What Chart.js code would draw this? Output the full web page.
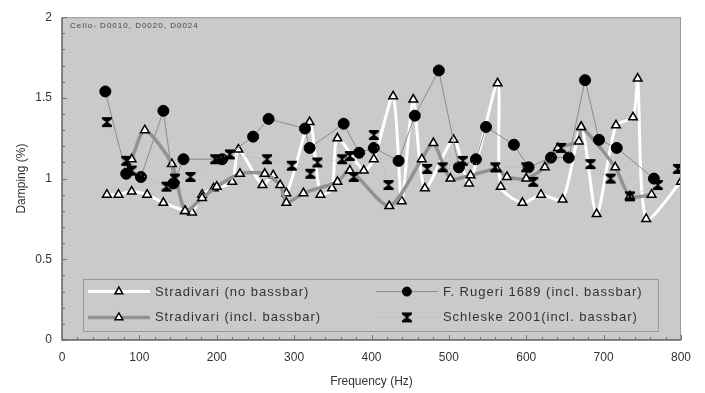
<!DOCTYPE html>
<html><head><meta charset="utf-8">
<script src="https://cdn.jsdelivr.net/npm/chart.js@4.4.1/dist/chart.umd.min.js"></script>
<style>html,body{margin:0;padding:0;background:#fff}#wrap{width:705px;height:393px}</style>
</head><body><div id="wrap"><canvas id="c" width="705" height="393"></canvas></div>
<script>
// ---- data (Frequency Hz, Damping %) ----
const noBassX = [58,73,90,110,131,159,168,181,196,220,228,259,273,290,320,334,349,356,390,403,428,439,454,469,506,526,563,567,595,619,647,671,691,716,738,744,755,800];
const noBassY = [0.90,0.90,0.92,0.90,0.85,0.80,0.79,0.90,0.94,0.98,1.18,0.96,1.02,0.91,1.35,0.90,0.94,1.25,1.05,1.12,1.51,0.86,1.49,0.94,1.24,0.97,1.59,0.95,0.85,0.90,0.87,1.32,0.78,1.33,1.38,1.62,0.75,0.98];
const inclBassX = [90,107,142,159,181,200,230,262,282,290,312,356,372,423,465,480,502,528,562,575,600,624,641,668,671,715,734,762];
const inclBassY = [1.12,1.30,1.09,0.80,0.88,0.95,1.03,1.03,0.96,0.85,0.91,0.98,1.05,0.83,1.12,1.22,1.00,1.02,1.06,1.01,1.00,1.07,1.19,1.23,1.32,1.07,0.89,0.90];
const rugeriX = [56,83,102,131,144,157,207,247,267,314,320,364,384,403,435,456,487,513,535,548,584,603,632,655,676,694,717,765];
const rugeriY = [1.54,1.03,1.01,1.42,0.97,1.12,1.12,1.26,1.37,1.31,1.19,1.34,1.16,1.19,1.11,1.39,1.67,1.07,1.12,1.32,1.21,1.07,1.13,1.13,1.61,1.24,1.19,1.00];
const schleskeX = [58,83,90,135,146,166,198,217,265,297,321,330,362,372,377,403,422,472,492,518,560,600,609,645,683,709,734,770,796];
const schleskeY = [1.35,1.11,1.05,0.95,1.00,1.01,1.12,1.15,1.12,1.08,1.03,1.10,1.12,1.14,1.01,1.27,0.96,1.06,1.07,1.11,1.07,1.07,0.98,1.19,1.09,1.00,0.89,0.96,1.06];
const seriesNames = ["Stradivari (no bassbar)","Stradivari (incl. bassbar)","F. Rugeri 1689 (incl. bassbar)","Schleske 2001(incl. bassbar)"];
const xTicks = [0,100,200,300,400,500,600,700,800];
const yTicks = [0,0.5,1,1.5,2];
const noteText = "Cello- D0010, D0020, D0024";

const pts = (xs, ys) => xs.map((x, i) => ({x: x, y: ys[i]}));

// hourglass marker
const hg = document.createElement('canvas');
hg.width = 12; hg.height = 12;
(function(){
  const g = hg.getContext('2d');
  g.fillStyle = '#000';
  g.beginPath();
  g.moveTo(1,1); g.lineTo(11,1); g.lineTo(11,3); g.lineTo(6.8,6); g.lineTo(11,9); g.lineTo(11,11);
  g.lineTo(1,11); g.lineTo(1,9); g.lineTo(5.2,6); g.lineTo(1,3); g.closePath();
  g.fill();
})();

const FONT = "'Liberation Sans', Arial, sans-serif";

const bgPlugin = {
  id: 'bg',
  beforeDraw(chart) {
    const {ctx, chartArea: a} = chart;
    ctx.save();
    ctx.fillStyle = '#cacaca';
    ctx.fillRect(a.left, a.top, a.right - a.left, a.bottom - a.top);
    ctx.restore();
  },
  afterDraw(chart) {
    const {ctx, chartArea: a, scales} = chart;
    ctx.save();
    // border
    ctx.strokeStyle = '#9a9a9a'; ctx.lineWidth = 1;
    ctx.strokeRect(a.left + 0.5, a.top + 0.5, a.right - a.left - 1, a.bottom - a.top - 1);
    ctx.strokeStyle = '#6a6a6a'; ctx.lineWidth = 1.5;
    ctx.beginPath(); ctx.moveTo(a.left, a.top); ctx.lineTo(a.left, a.bottom); ctx.lineTo(a.right, a.bottom); ctx.stroke();
    // inward ticks
    ctx.strokeStyle = '#707070'; ctx.lineWidth = 1;
    for (let v = 0; v <= 2.0001; v += 0.1) {
      const y = Math.round(scales.y.getPixelForValue(v)) + 0.5;
      const major = Math.abs(v * 2 - Math.round(v * 2)) < 1e-6;
      ctx.beginPath(); ctx.moveTo(a.left, y); ctx.lineTo(a.left + (major ? 5 : 3), y); ctx.stroke();
    }
    for (let v = 0; v <= 800; v += 20) {
      const x = Math.round(scales.x.getPixelForValue(v)) + 0.5;
      const major = v % 100 === 0;
      ctx.beginPath(); ctx.moveTo(x, a.bottom); ctx.lineTo(x, a.bottom - (major ? 5 : 3)); ctx.stroke();
    }
    // note text
    ctx.fillStyle = '#444'; ctx.font = '8px ' + FONT; ctx.textBaseline = 'middle';
    ctx.letterSpacing = '1px';
    ctx.fillText(noteText, a.left + 8, a.top + 9);
    // legend box
    const lx = scales.x.getPixelForValue(27), rx = scales.x.getPixelForValue(770);
    const ty = scales.y.getPixelForValue(0.38), by = scales.y.getPixelForValue(0.06);
    ctx.fillStyle = '#cacaca';
    ctx.fillRect(lx, ty, rx - lx, by - ty);
    ctx.strokeStyle = '#9a9a9a'; ctx.lineWidth = 1;
    ctx.strokeRect(Math.round(lx) + 0.5, Math.round(ty) + 0.5, Math.round(rx - lx), Math.round(by - ty));
    const rows = [ty + (by - ty) * 0.25, ty + (by - ty) * 0.75];
    const cols = [lx + 5, lx + 293];
    const ds = chart.data.datasets;
    const place = [[0,0],[1,0],[0,1],[1,1]];
    ds.forEach((d, i) => {
      const [r, c] = place[i];
      const y = rows[r], x0 = cols[c], x1 = x0 + 62, xm = (x0 + x1) / 2;
      ctx.save();
      ctx.strokeStyle = d.borderColor; ctx.lineWidth = d.borderWidth;
      if (d.borderDash) ctx.setLineDash(d.borderDash);
      ctx.beginPath(); ctx.moveTo(x0, y); ctx.lineTo(x1, y); ctx.stroke();
      ctx.restore();
      ctx.save();
      ctx.fillStyle = d.pointBackgroundColor;
      ctx.strokeStyle = d.pointBorderColor;
      ctx.lineWidth = d.pointBorderWidth;
      Chart.helpers.drawPoint(ctx, {
        pointStyle: d.pointStyle, radius: d.pointStyle === 'triangle' ? 4.5 : (d.pointStyle === 'circle' ? 4.5 : d.pointRadius), rotation: 0,
        borderWidth: d.pointBorderWidth
      }, xm, y);
      ctx.restore();
      ctx.save();
      ctx.fillStyle = '#333'; ctx.font = '13px ' + FONT; ctx.textBaseline = 'middle';
      ctx.letterSpacing = '1px';
      ctx.fillText(d.label, x1 + 5, y + 0.5);
      ctx.restore();
    });
    ctx.restore();
  }
};

const chart = new Chart(document.getElementById('c'), {
  type: 'scatter',
  data: {
    datasets: [
      { label: seriesNames[0], data: pts(noBassX, noBassY), showLine: true, tension: 0.25,
        borderColor: '#ffffff', borderWidth: 3, pointStyle: 'triangle', pointRadius: 5,
        pointBackgroundColor: '#ffffff', pointBorderColor: '#000', pointBorderWidth: 1.5, order: 4 },
      { label: seriesNames[1], data: pts(inclBassX, inclBassY), showLine: true, tension: 0.25,
        borderColor: '#929292', borderWidth: 3.5, pointStyle: 'triangle', pointRadius: 5,
        pointBackgroundColor: '#ffffff', pointBorderColor: '#000', pointBorderWidth: 1.5, order: 3 },
      { label: seriesNames[2], data: pts(rugeriX, rugeriY), showLine: true, tension: 0,
        borderColor: '#8c8c8c', borderWidth: 1, pointStyle: 'circle', pointRadius: 5.5,
        pointBackgroundColor: '#000', pointBorderColor: '#000', pointBorderWidth: 1, order: 2 },
      { label: seriesNames[3], data: pts(schleskeX, schleskeY), showLine: true, tension: 0,
        borderColor: '#a8a8a8', borderWidth: 1, borderDash: [1, 3], pointStyle: hg, pointRadius: 6,
        pointBackgroundColor: '#000', pointBorderColor: '#000', pointBorderWidth: 0, order: 1 }
    ]
  },
  options: {
    responsive: false, animation: false,
    layout: { padding: { left: 0, right: 24, top: 16, bottom: 0 } },
    plugins: { legend: { display: false }, tooltip: { enabled: false } },
    scales: {
      x: {
        type: 'linear', min: 0, max: 800,
        afterBuildTicks: s => { s.ticks = xTicks.map(v => ({value: v})); },
        afterFit: s => { s.height = 53; },
        grid: { display: false, drawTicks: false },
        border: { display: false },
        ticks: { color: '#333', font: { family: FONT, size: 12 }, padding: 10, maxRotation: 0 },
        title: { display: true, text: 'Frequency (Hz)', color: '#333', font: { family: FONT, size: 12 }, padding: { top: 2 } }
      },
      y: {
        type: 'linear', min: 0, max: 2,
        afterBuildTicks: s => { s.ticks = yTicks.map(v => ({value: v})); },
        afterFit: s => { s.width = 62; },
        grid: { display: false, drawTicks: false },
        border: { display: false },
        ticks: { color: '#333', font: { family: FONT, size: 12 }, padding: 10, callback: v => String(v) },
        title: { display: true, text: 'Damping (%)', color: '#333', font: { family: FONT, size: 12 }, padding: { top: 14, bottom: 0 } }
      }
    }
  },
  plugins: [bgPlugin]
});
</script>
</body></html>
